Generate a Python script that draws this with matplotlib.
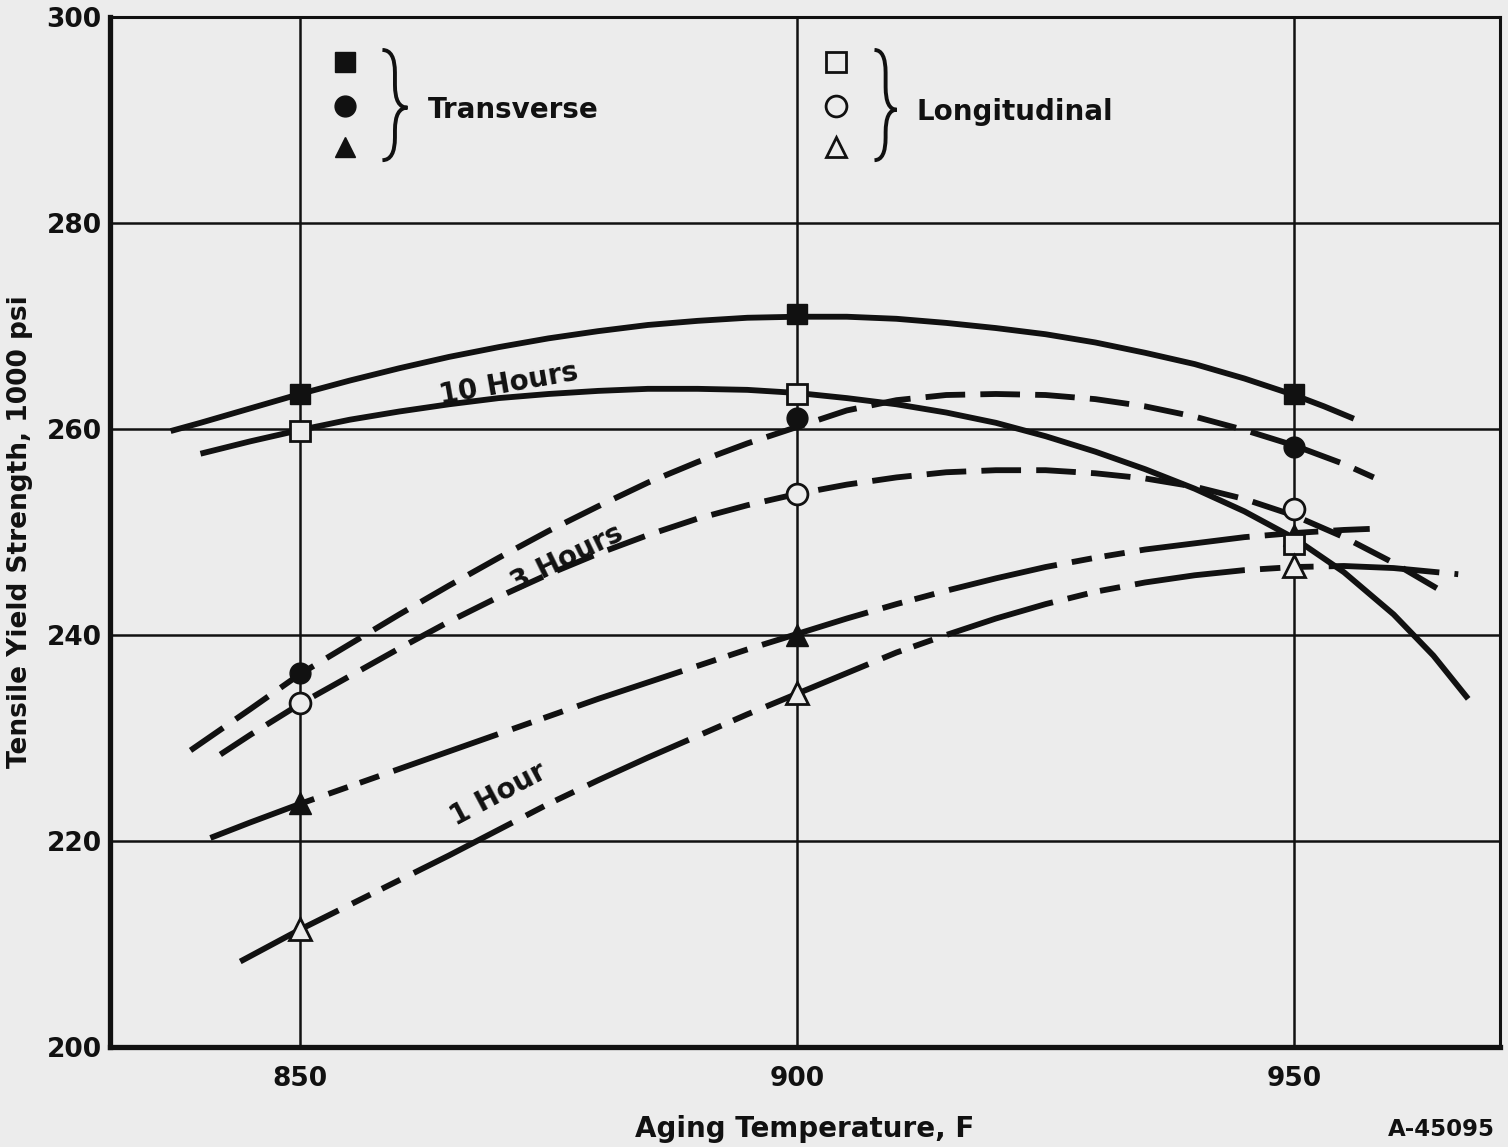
import numpy as np
import matplotlib.pyplot as plt
from matplotlib.path import Path
from matplotlib.patches import PathPatch

# aging temperature (F) of the test points
temps = [850, 900, 950]

# measured points, 1000 psi
trans_10h = [263.4, 271.2, 263.4]
trans_3h = [236.3, 261.1, 258.3]
trans_1h = [223.7, 240.0, 249.7]
long_10h = [259.8, 263.4, 248.8]
long_3h = [233.4, 253.7, 252.2]
long_1h = [211.5, 234.4, 246.7]

# faired curves
c10t_x = [837, 840, 845, 850, 855, 860, 865, 870, 875, 880, 885, 890, 895, 900,
          905, 910, 915, 920, 925, 930, 935, 940, 945, 950, 953, 956]
c10t_y = [259.8, 260.6, 262.0, 263.4, 264.7, 265.9, 267.0, 267.95, 268.8, 269.5, 270.1, 270.5, 270.8, 270.9,
          270.9, 270.7, 270.3, 269.8, 269.2, 268.4, 267.4, 266.3, 264.9, 263.3, 262.2, 261.0]

c10l_x = [840, 845, 850, 855, 860, 865, 870, 875, 880, 885, 890, 895, 900,
          905, 910, 915, 920, 925, 930, 935, 940, 945, 950, 955, 960, 964, 967.5]
c10l_y = [257.6, 258.8, 259.9, 260.9, 261.7, 262.4, 263.0, 263.4, 263.7, 263.9, 263.9, 263.8, 263.5,
          263.0, 262.4, 261.6, 260.6, 259.3, 257.8, 256.1, 254.2, 252.0, 249.4, 246.1, 242.0, 238.0, 233.8]

c3t_x = [839, 845, 850, 855, 860, 865, 870, 875, 880, 885, 890, 895, 900,
         905, 910, 915, 920, 925, 930, 935, 940, 945, 950, 955, 958]
c3t_y = [228.8, 232.8, 236.2, 239.1, 242.0, 244.8, 247.5, 250.1, 252.5, 254.8, 256.8, 258.6, 260.2,
         261.8, 262.8, 263.3, 263.4, 263.3, 262.9, 262.2, 261.2, 259.9, 258.4, 256.6, 255.3]

c3l_x = [842, 845, 850, 855, 860, 865, 870, 875, 880, 885, 890, 895, 900,
         905, 910, 915, 920, 925, 930, 935, 940, 945, 950, 955, 960, 965.3]
c3l_y = [228.4, 230.3, 233.3, 236.0, 238.7, 241.3, 243.7, 245.9, 247.9, 249.7, 251.3, 252.6, 253.7,
         254.6, 255.3, 255.8, 256.0, 256.0, 255.7, 255.2, 254.4, 253.2, 251.6, 249.5, 247.0, 244.0]

c1t_x = [841, 845, 850, 855, 860, 865, 870, 875, 880, 885, 890, 895, 900,
         905, 910, 915, 920, 925, 930, 935, 940, 945, 950, 955, 957.6]
c1t_y = [220.3, 221.8, 223.6, 225.3, 227.0, 228.7, 230.4, 232.1, 233.8, 235.4, 237.0, 238.6, 240.1,
         241.6, 243.0, 244.3, 245.5, 246.6, 247.5, 248.3, 248.9, 249.5, 249.9, 250.2, 250.3]

c1l_x = [844, 850, 855, 860, 865, 870, 875, 880, 885, 890, 895, 900,
         905, 910, 915, 920, 925, 930, 935, 940, 945, 950, 955, 960, 966.5]
c1l_y = [208.3, 211.4, 213.8, 216.2, 218.6, 221.1, 223.6, 225.9, 228.1, 230.2, 232.3, 234.3,
         236.3, 238.3, 240.0, 241.6, 243.0, 244.2, 245.1, 245.8, 246.3, 246.6, 246.7, 246.5, 245.9]

bg = '#ececec'
ink = '#111111'

plt.rcParams['font.family'] = ['DejaVu Sans']
plt.rcParams['font.weight'] = 'bold'
plt.rcParams['axes.labelweight'] = 'bold'

fig = plt.figure(figsize=(15.08, 11.47), dpi=100)
fig.patch.set_facecolor(bg)
ax = fig.add_axes([110/1508, 1 - 1047/1147, 1390/1508, 1030/1147])
ax.set_facecolor(bg)

ax.set_xlim(830.9, 970.7)
ax.set_ylim(200, 300)
ax.set_xticks(temps)
ax.set_yticks([200, 220, 240, 260, 280, 300])
ax.grid(True, color=ink, lw=1.8)
ax.set_axisbelow(True)
ax.tick_params(length=0, labelsize=19, colors=ink)
ax.tick_params(axis='x', pad=14)
ax.tick_params(axis='y', pad=6)
for lab in ax.get_xticklabels() + ax.get_yticklabels():
    lab.set_fontweight('bold')

for side, w in [('left', 3.8), ('bottom', 3.8), ('top', 2.2), ('right', 2.2)]:
    ax.spines[side].set_linewidth(w)
    ax.spines[side].set_color(ink)

lw = 4.2
dash3 = (0, (6.8, 2.6))
dash1 = (0, (19, 2.6, 3.5, 2.2, 3.5, 2.6))

ax.plot(c10t_x, c10t_y, color=ink, lw=lw, solid_capstyle='butt')
ax.plot(c10l_x, c10l_y, color=ink, lw=lw, solid_capstyle='butt')
ax.plot(c3t_x, c3t_y, color=ink, lw=lw, linestyle=dash3)
ax.plot(c3l_x, c3l_y, color=ink, lw=lw, linestyle=dash3)
ax.plot(c1t_x, c1t_y, color=ink, lw=lw, linestyle=dash1)
ax.plot(c1l_x, c1l_y, color=ink, lw=lw, linestyle=dash1)

ms = 15
ax.plot(temps, trans_10h, 's', ms=ms, color=ink, zorder=5)
ax.plot(temps, trans_3h, 'o', ms=ms, color=ink, zorder=5)
ax.plot(temps, trans_1h, '^', ms=ms + 1, color=ink, zorder=5)
ax.plot(temps, long_10h, 's', ms=ms, mfc=bg, mec=ink, mew=2, zorder=6)
ax.plot(temps, long_3h, 'o', ms=ms, mfc=bg, mec=ink, mew=2, zorder=6)
ax.plot(temps, long_1h, '^', ms=ms + 1, mfc=bg, mec=ink, mew=2, zorder=6)

# curve labels
ax.text(871.0, 264.4, '10 Hours', rotation=10, fontsize=20, ha='center', va='center', color=ink)
ax.text(876.9, 247.5, '3 Hours', rotation=26, fontsize=20, ha='center', va='center', color=ink)
ax.text(870.0, 224.5, '1 Hour', rotation=28, fontsize=20, ha='center', va='center', color=ink)

# legend block
for mk, yy in [('s', 0.956), ('o', 0.914), ('^', 0.874)]:
    ax.plot([0.169], [yy], mk, ms=ms, color=ink, transform=ax.transAxes, clip_on=False)
    ax.plot([0.522], [yy], mk, ms=ms, mfc=bg, mec=ink, mew=2, transform=ax.transAxes, clip_on=False)


def brace(x0, xt, top, bot, mid, r=0.022):
    xm = (x0 + xt) / 2
    verts = [(x0, top), (xm, top), (xm, top - r), (xm, mid + r), (xm, mid), (xt, mid),
             (xm, mid), (xm, mid - r), (xm, bot + r), (xm, bot), (x0, bot)]
    codes = [Path.MOVETO, Path.CURVE3, Path.CURVE3, Path.LINETO, Path.CURVE3, Path.CURVE3,
             Path.CURVE3, Path.CURVE3, Path.LINETO, Path.CURVE3, Path.CURVE3]
    ax.add_patch(PathPatch(Path(verts, codes), fill=False, lw=2.8, ec=ink, transform=ax.transAxes))


brace(0.196, 0.214, 0.968, 0.861, 0.912)
brace(0.550, 0.566, 0.968, 0.861, 0.910)
ax.text(0.229, 0.910, 'Transverse', transform=ax.transAxes, fontsize=20, va='center', color=ink)
ax.text(0.580, 0.908, 'Longitudinal', transform=ax.transAxes, fontsize=20, va='center', color=ink)

ax.set_xlabel('Aging Temperature, F', fontsize=20, fontweight='bold', labelpad=16, color=ink)
ax.set_ylabel('Tensile Yield Strength, 1000 psi', fontsize=19, fontweight='bold', labelpad=10, color=ink)

fig.text(1495/1508, 1 - 1130/1147, 'A-45095', fontsize=16.5, ha='right', va='center', color=ink)

fig.savefig('out.png', dpi=100, facecolor=bg)
